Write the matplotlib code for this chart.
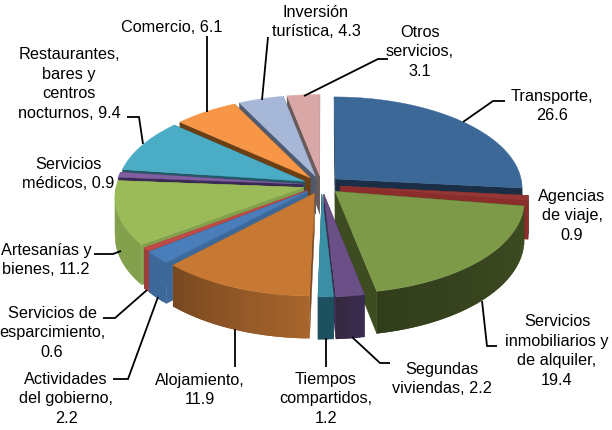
import numpy as np
import matplotlib
matplotlib.use("Agg")
import matplotlib.pyplot as plt
from matplotlib.colors import to_rgb

plt.rcParams['font.family'] = ['Liberation Sans', 'DejaVu Sans']

names = ["Transporte", "Agencias de viaje", "Servicios inmobiliarios y de alquiler",
         "Segundas viviendas", "Tiempos compartidos", "Alojamiento",
         "Actividades del gobierno", "Servicios de esparcimiento", "Artesanías y bienes",
         "Servicios médicos", "Restaurantes, bares y centros nocturnos", "Comercio",
         "Inversión turística", "Otros servicios"]
values = [26.6, 0.9, 19.4, 2.2, 1.2, 11.9, 2.2, 0.6, 11.2, 0.9, 9.4, 6.1, 4.3, 3.1]
top_colors = ["#3C6898", "#953735", "#7D9A48", "#6B5088", "#3B8FA5", "#C77832", "#4A7EBB",
              "#BE4B48", "#9BBB59", "#7F5FA0", "#4BACC6", "#F79646", "#A7B7D8", "#D9A7A6"]
wall_a = ["#1A2E45", "#8A2D2B", "#3E4C22", "#3A2B50", "#1E5160", "#A8662C", "#3D699A",
          "#9E3E3C", "#83A04C", "#3B2A55", "#215967", "#6B3E14", "#4D5A70", "#6A5A5A"]
wall_b = ["#1A2E45", "#4A1B1A", "#323D1B", "#35283F", "#1E5160", "#784820", "#3D699A",
          "#9E3E3C", "#83A04C", "#3B2A55", "#215967", "#6B3E14", "#4D5A70", "#6A5A5A"]
labels = ["Transporte,\n26.6", "Agencias\nde viaje,\n0.9", "Servicios\ninmobiliarios y\nde alquiler,\n19.4",
          "Segundas\nviviendas, 2.2", "Tiempos\ncompartidos,\n1.2", "Alojamiento,\n11.9",
          "Actividades\ndel gobierno,\n2.2", "Servicios de\nesparcimiento,\n0.6", "Artesanías y\nbienes, 11.2",
          "Servicios\nmédicos, 0.9", "Restaurantes,\nbares y\ncentros\nnocturnos, 9.4", "Comercio, 6.1",
          "Inversión\nturística, 4.3", "Otros\nservicios,\n3.1"]
label_pos = [(552, 106), (572, 216), (557, 351), (442, 379), (326, 399), (200, 390),
             (66, 399), (52, 333), (46, 260), (68, 174), (69, 84), (172, 28),
             (316, 22), (420, 52)]
leaders = [[(463, 123), (493, 102), (505, 102)], None,
           [(482, 302), (487, 347), (497, 347)],
           [(352, 338), (380, 364), (390, 364)],
           [(326, 339), (326, 368)], [(235, 330), (235, 368)],
           [(158, 298), (128, 380), (113, 380)],
           [(147, 291), (115, 319), (103, 319)],
           [(121, 252), (113, 255), (94, 255)], None,
           [(143, 145), (139, 118), (127, 118)],
           [(207, 113), (207, 37)],
           [(262, 101), (268, 38)],
           [(304, 97), (378, 60), (388, 60)]]

CX, CY, RX, RY, PERSP, EXPL, DEPTH = 321.5, 186, 187, 91, 0.096, 0.10, 38


def project(X, Y):
    w = 1 + PERSP * Y
    return CX + RX * X / w, CY - RY * Y / w, DEPTH / w


fig = plt.figure(figsize=(6.12, 4.31), dpi=100)
ax = fig.add_axes([0, 0, 1, 1])
ax.set_xlim(0, 612)
ax.set_ylim(431, 0)
ax.axis("off")

fr = np.array(values) / sum(values)
edges = np.concatenate([[0], np.cumsum(fr)]) * 2 * np.pi
mids = (edges[:-1] + edges[1:]) / 2
order = np.argsort(-np.cos(mids))

for i in order:
    a0, a1, m = edges[i], edges[i + 1], mids[i]
    ox, oy = EXPL * np.sin(m), EXPL * np.cos(m)
    th = np.linspace(a0, a1, max(3, int((a1 - a0) * 60)))
    X = ox + np.sin(th)
    Y = oy + np.cos(th)
    px, py, pd = project(X, Y)
    ax0, ay0, ad0 = project(np.array([ox]), np.array([oy]))
    ca, cb = np.array(to_rgb(wall_a[i])), np.array(to_rgb(wall_b[i]))
    # cut faces
    for k in (0, -1):
        ax.fill([ax0[0], px[k], px[k], ax0[0]],
                [ay0[0], py[k], py[k] + pd[k], ay0[0] + ad0[0]],
                color=wall_b[i] if k == 0 else wall_a[i], lw=0.3)
    # outer wall, shaded by overlapping strips
    n = len(th)
    for j in range(n - 1):
        if np.cos(th[j]) > 0:
            continue
        e = min(j + 2, n - 1)
        t = j / max(1, n - 2)
        col = ca * (1 - t) + cb * t
        ax.fill([px[j], px[e], px[e], px[j]],
                [py[j], py[e], py[e] + pd[e], py[j] + pd[j]],
                color=tuple(col), lw=0)
    # top face
    ax.fill(np.r_[ax0, px], np.r_[ay0, py], color=top_colors[i], lw=0.3)

for lab, (x, y), ld in zip(labels, label_pos, leaders):
    ax.text(x, y, lab, ha="center", va="center", fontsize=11.7, color="black",
            linespacing=1.38)
    if ld:
        ax.plot(*zip(*ld), color="black", lw=1.3, solid_joinstyle="miter", solid_capstyle="butt")

fig.savefig("out.png", dpi=100, facecolor="white")
